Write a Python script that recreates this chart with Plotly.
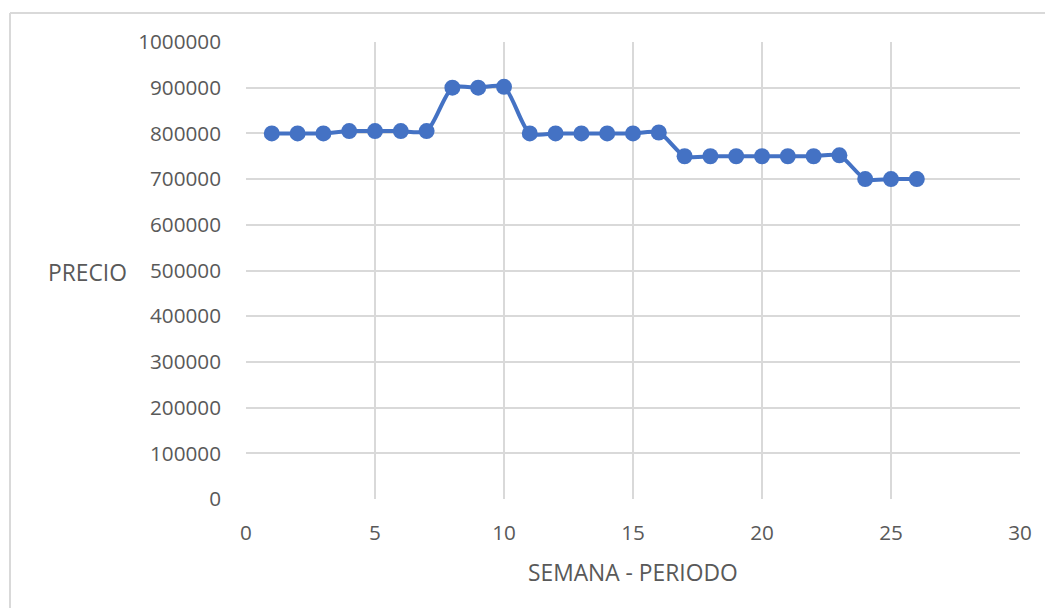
import plotly.graph_objects as go

semana = list(range(1, 27))
precio = [800000, 800000, 800000, 805000, 805000, 805000, 805000,
          900000, 900000, 902000,
          800000, 800000, 800000, 800000, 800000, 802000,
          750000, 750000, 750000, 750000, 750000, 750000, 752000,
          700000, 700000, 700000]

x_ticks = [0, 5, 10, 15, 20, 25, 30]
y_ticks = [0, 100000, 200000, 300000, 400000, 500000, 600000, 700000, 800000, 900000, 1000000]

FONT = "Open Sans"
TICK_COLOR = "#595959"
GRID = "#d9d9d9"
FS = 20.7
FS_TITLE = 22.8

fig = go.Figure()
fig.add_trace(go.Scatter(
    x=semana, y=precio, mode="lines+markers",
    line=dict(color="#4472C4", width=4, shape="spline", smoothing=0.7),
    marker=dict(color="#4472C4", size=16),
    showlegend=False, cliponaxis=False,
))

OFF = 8  # browser body margin
W, H = 1053 - OFF, 608 - OFF
L, T = 246 - OFF, 42 - OFF
pw, ph = 774, 457
R = W - L - pw
B = H - T - ph

def px_x(x):
    return (x - OFF - L) / pw

def px_y(y):
    return (T + ph - (y - OFF)) / ph

fig.update_layout(
    width=W, height=H,
    margin=dict(l=L, r=R, t=T, b=B, pad=0),
    paper_bgcolor="white", plot_bgcolor="white",
    font=dict(family=FONT, size=FS, color=TICK_COLOR),
    xaxis=dict(range=[0, 30], tickvals=x_ticks, ticktext=[str(v) for v in x_ticks],
               showgrid=True, gridcolor=GRID, gridwidth=2, zeroline=False,
               showline=False, ticks="", ticklabelstandoff=19,
               tickfont=dict(family=FONT, size=FS, color=TICK_COLOR)),
    yaxis=dict(range=[0, 1000000], tickvals=y_ticks, ticktext=[str(v) for v in y_ticks],
               showgrid=True, gridcolor=GRID, gridwidth=2, zeroline=False,
               showline=False, ticks="", ticklabelstandoff=24,
               tickfont=dict(family=FONT, size=FS, color=TICK_COLOR)),
)

fig.add_annotation(text="PRECIO", xref="paper", yref="paper",
                   x=px_x(87), y=px_y(272), showarrow=False,
                   xanchor="center", yanchor="middle",
                   font=dict(family=FONT, size=FS_TITLE, color=TICK_COLOR))
fig.add_annotation(text="SEMANA - PERIODO", xref="paper", yref="paper",
                   x=px_x(633), y=px_y(572), showarrow=False,
                   xanchor="center", yanchor="middle",
                   font=dict(family=FONT, size=FS_TITLE, color=TICK_COLOR))

# outer chart border (top and left visible)
bx0, bx1 = px_x(10), px_x(1070)
by_top, by_bot = px_y(13), px_y(620)
fig.add_shape(type="line", xref="paper", yref="paper", x0=bx0, x1=bx1, y0=by_top, y1=by_top,
              line=dict(color=GRID, width=2), layer="below")
fig.add_shape(type="line", xref="paper", yref="paper", x0=bx0, x1=bx0, y0=by_top, y1=by_bot,
              line=dict(color=GRID, width=2), layer="below")

fig.write_html("out.html")
